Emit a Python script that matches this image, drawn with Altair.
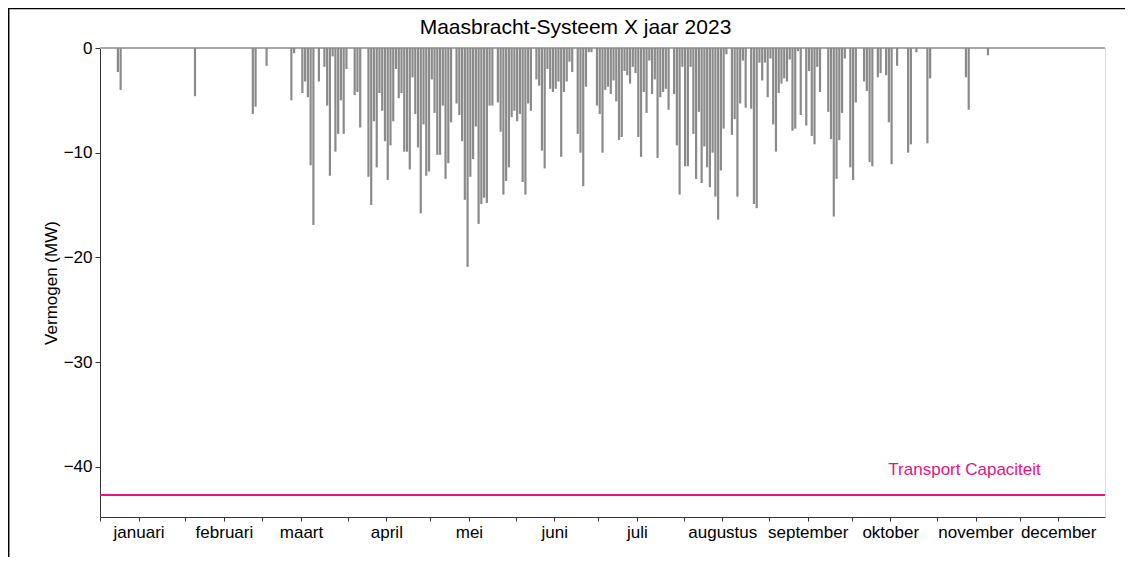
import altair as alt
import pandas as pd

# ---- data ----
title_text = "Maasbracht-Systeem X jaar 2023"
y_title = "Vermogen (MW)"
months = ["januari", "februari", "maart", "april", "mei", "juni", "juli",
          "augustus", "september", "oktober", "november", "december"]
month_start = [0, 31, 59, 90, 120, 151, 181, 212, 243, 273, 304, 334]
month_mid = [s + 14 for s in month_start]
days_in_year = 365

capacity = -42.7
capacity_label = "Transport Capaciteit"
capacity_label_day = 314

days = [6, 7, 34, 55, 56, 60,
        69, 70, 73, 74, 75, 76, 77, 79, 81, 82, 83, 84, 85, 86, 87, 88, 89,
        92, 93, 94, 97, 98, 99, 100, 101, 102, 103, 104, 105, 106, 107, 108,
        109, 110, 111, 112, 113, 114, 115, 116, 117, 118, 119, 120, 121,
        122, 123, 124, 125, 126, 127, 129, 130, 131, 132, 133, 134, 135, 136,
        137, 138, 139, 140, 141, 142, 144, 145, 146, 147, 148, 149, 150, 151,
        152, 153, 154, 155, 156, 158, 159, 160, 161, 162, 163, 164, 165, 166,
        167, 168, 169, 170, 171, 173, 174, 175, 176, 177, 178, 180, 181,
        182, 183, 184, 185, 186, 187, 188, 189, 190, 191, 192, 193, 194, 195,
        196, 197, 198, 199, 200, 201, 202, 203, 204, 205, 206, 208, 209, 210,
        211, 212, 213, 214, 215, 216, 217, 218, 219, 220, 221, 222, 223, 224,
        225, 226, 227, 229, 230, 231, 232, 233, 234, 236, 237, 238, 239, 240,
        241, 242, 243, 244, 245, 246, 247, 248, 249, 250, 251, 252, 253, 254,
        256, 257, 258, 259, 260, 261, 264, 265, 266, 267, 268, 269, 270, 272,
        273, 274, 277, 278, 279, 280, 282, 283, 285, 286, 287, 289, 293, 294,
        296, 300, 301, 314, 315, 322]

values = [-2.3, -4.0, -4.6, -6.3, -5.6, -1.7,
          -5.0, -0.5, -4.3, -3.2, -4.7, -11.2, -16.9, -3.2, -1.8, -5.5, -12.2, -0.8, -9.9, -8.2, -5.0, -8.2, -2.0,
          -4.5, -4.2, -7.6, -12.3, -15.0, -7.0, -11.4, -4.3, -6.0, -8.9, -12.6, -9.3, -7.0, -2.0, -4.8,
          -4.3, -9.9, -9.9, -11.6, -2.8, -6.3, -9.5, -15.8, -7.3, -12.2, -11.8, -3.0, -6.2,
          -10.2, -10.2, -5.5, -12.5, -11.0, -7.1, -5.3, -6.4, -8.9, -14.5, -20.9, -12.3, -10.6, -7.5,
          -16.8, -14.9, -14.3, -14.8, -5.5, -5.5, -5.2, -8.0, -14.0, -12.7, -11.4, -6.6, -6.0, -7.0,
          -6.3, -12.8, -14.0, -5.3, -6.0, -3.0, -3.6, -9.8, -11.5, -2.0, -3.9, -4.2, -3.9, -3.2,
          -10.4, -4.2, -3.2, -1.3, -2.3, -8.2, -10.0, -13.2, -3.7, -0.4, -0.4, -5.5, -6.3,
          -10.0, -4.0, -3.7, -4.4, -3.1, -5.1, -8.8, -8.5, -2.2, -2.6, -3.4, -1.8, -2.4, -8.5,
          -10.4, -4.2, -6.2, -1.2, -4.4, -3.0, -10.5, -4.7, -4.2, -3.9, -5.9, -4.4, -9.3, -14.0,
          -1.8, -11.3, -11.3, -1.8, -8.2, -12.5, -6.1, -12.9, -9.4, -11.4, -13.3, -10.0, -14.2, -16.4,
          -11.7, -7.7, -0.6, -8.3, -6.8, -14.2, -5.3, -1.2, -5.7, -5.8, -14.9, -15.3, -1.4, -3.1,
          -1.4, -4.7, -1.0, -7.3, -9.9, -4.3, -3.4, -2.9, -3.2, -1.1, -7.9, -7.7, -0.3, -6.4,
          -7.4, -2.2, -8.4, -9.2, -1.8, -4.2, -6.1, -8.7, -16.1, -12.5, -8.8, -6.2, -1.0, -11.4,
          -12.6, -5.2, -3.2, -4.1, -10.9, -11.3, -2.8, -2.4, -2.6, -7.1, -11.1, -1.7, -10.0, -9.2,
          -0.4, -9.1, -2.9, -2.8, -5.9, -0.7]

# ---- tables ----
df = pd.DataFrame({"day": [d + 0.5 for d in days], "value": values})
df["zero"] = 0.0
ann = pd.DataFrame({"day": [capacity_label_day], "value": [capacity], "label": [capacity_label]})

FONT = "Liberation Sans"
W, H = 1005, 469
PAD_R = 20
PINK = "#e5157f"
GRAY = "#8a8a8a"

tick_vals = sorted(month_start + month_mid)
label_expr = ("indexof(%s, datum.value) >= 0 ? %s[indexof(%s, datum.value)] : ''"
              % (str(month_mid), str(months), str(month_mid)))

x_scale = alt.Scale(domain=[0, days_in_year], nice=False, zero=False)
y_scale = alt.Scale(domain=[-44.8, 0], nice=False, zero=False)

x_axis = alt.Axis(values=tick_vals, labelExpr=label_expr, title=None, grid=False,
                  labelFontSize=17, labelFont=FONT, labelColor="black",
                  tickSize=4, tickColor="#333", domainColor="#333", labelPadding=3,
                  labelFlush=False, labelOverlap=False)
y_axis = alt.Axis(values=[0, -10, -20, -30, -40], title=y_title, grid=False,
                  labelFontSize=17, labelFont=FONT, labelColor="black",
                  titleFontSize=17, titleFont=FONT, titleFontWeight="normal",
                  titleColor="black", titlePadding=3,
                  tickSize=5, tickColor="#333", domainColor="#333", labelPadding=3)

bars = alt.Chart(df).mark_rule(color=GRAY, strokeWidth=2.2).encode(
    x=alt.X("day:Q", scale=x_scale, axis=x_axis),
    y=alt.Y("value:Q", scale=y_scale, axis=y_axis),
    y2="zero:Q",
)

zero_line = alt.Chart(df).mark_rule(color="#a8a8a8", strokeWidth=1).encode(
    y=alt.datum(0, scale=y_scale)
)

cap_line = alt.Chart(ann).mark_rule(color=PINK, strokeWidth=2).encode(
    y=alt.Y("value:Q", scale=y_scale)
)

cap_text = alt.Chart(ann).mark_text(color=PINK, fontSize=17, font=FONT, align="center",
                                    baseline="alphabetic", dy=-20).encode(
    x=alt.X("day:Q", scale=x_scale),
    y=alt.Y("value:Q", scale=y_scale),
    text="label:N",
)

frame_left = alt.Chart(ann).mark_rule(color="black", strokeWidth=1.5).encode(
    x=alt.value(-91.3), y=alt.value(-40), y2=alt.value(H + 45)
)
frame_top = alt.Chart(ann).mark_rule(color="black", strokeWidth=1.5).encode(
    x=alt.value(-92), x2=alt.value(W + PAD_R), y=alt.value(-39.5)
)

chart = alt.layer(zero_line, bars, cap_line, cap_text, frame_left, frame_top).properties(
    width=W, height=H,
    title=alt.TitleParams(title_text, fontSize=21, font=FONT, fontWeight="normal",
                          color="black", anchor="middle", dx=-27, offset=-31),
    padding={"left": 92, "top": 40, "right": PAD_R, "bottom": 40},
    autosize=alt.AutoSizeParams(type="none"),
).configure_view(strokeWidth=0).configure(background="white")

chart.save("out.html", embed_options={"renderer": "svg", "actions": False})
